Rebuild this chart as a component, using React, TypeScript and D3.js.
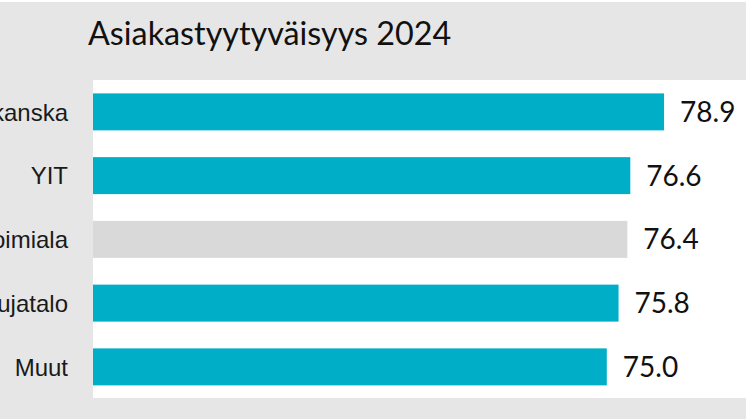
import React from "react";
import * as d3 from "d3";

const categories = ["Skanska", "YIT", "Toimiala", "Lujatalo", "Muut"];
const values = [78.9, 76.6, 76.4, 75.8, 75.0];
const highlight = [false, false, true, false, false];
const title = "Asiakastyytyväisyys 2024";

const W = 746;
const H = 419;

export default function App() {
  const plotLeft = 93;
  const plotTop = 80;
  const plotBottom = 398.75;
  const x = d3.scaleLinear().domain([40, 90]).range([plotLeft, plotLeft + 734]);
  const y = d3
    .scaleBand<string>()
    .domain(categories)
    .range([plotTop, plotBottom])
    .paddingInner(0.42)
    .paddingOuter(0.21);

  return (
    <svg
      width={W}
      height={H}
      style={{ position: "absolute", left: 0, top: 0, display: "block" }}
    >
      <rect x={0} y={0} width={W} height={H} fill="#e6e6e6" />
      <rect x={0} y={0} width={W} height={2} fill="#ffffff" />
      <rect x={plotLeft} y={plotTop} width={W - plotLeft} height={plotBottom - plotTop - 0.75} fill="#ffffff" />
      <text x={88} y={45} fontFamily="Lato" fontSize={32.3} fill="#111">
        {title}
      </text>
      {categories.map((c, i) => {
        const by = y(c)!;
        const bh = y.bandwidth();
        return (
          <g key={c}>
            <rect
              x={x(40)}
              y={by}
              width={x(values[i]) - x(40)}
              height={bh}
              fill={highlight[i] ? "#d9d9d9" : "#00aec7"}
            />
            <text
              x={x(values[i]) + 16}
              y={by + bh / 2}
              dy="0.36em"
              fontFamily="Lato"
              fontSize={28}
              fill="#111"
            >
              {values[i].toFixed(1)}
            </text>
            <text
              x={68}
              y={by + bh / 2}
              dy="0.36em"
              textAnchor="end"
              fontFamily="Liberation Sans"
              fontSize={24}
              fill="#1a1a1a"
            >
              {c}
            </text>
          </g>
        );
      })}
    </svg>
  );
}
